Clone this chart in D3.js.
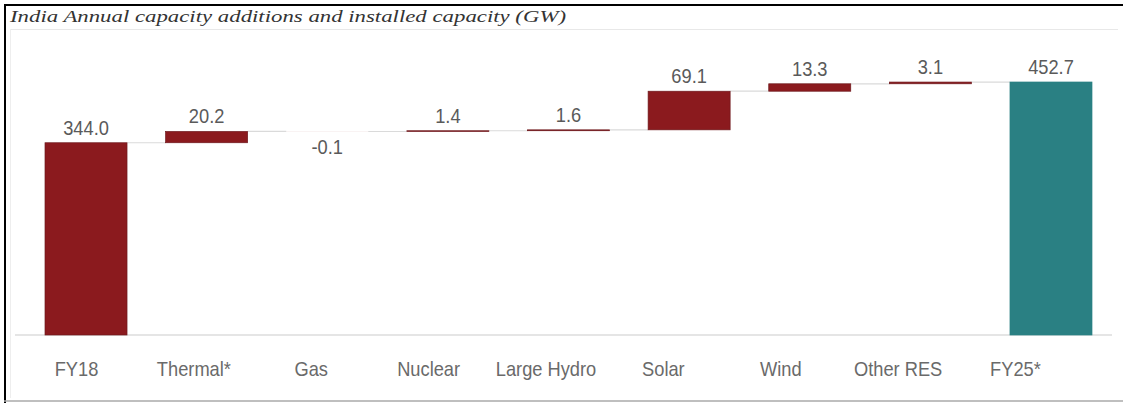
<!DOCTYPE html>
<html lang="en">
<head>
<meta charset="UTF-8">
<title>India capacity waterfall</title>
<style>
    body { margin: 0; background: #fff; }
    .title { font-family: "Liberation Serif", "DejaVu Serif", serif; font-style: italic; fill: #333; }
    .val { font-family: "Liberation Sans", sans-serif; fill: #5a5a5a; }
    .axis text { font-family: "Liberation Sans", sans-serif; fill: #6a6a6a; }
</style>
</head>
<body>
<svg id="chart"></svg>
<script src="https://d3js.org/d3.v7.min.js"></script>
<script>
    const categories = ["FY18", "Thermal*", "Gas", "Nuclear", "Large Hydro", "Solar", "Wind", "Other RES", "FY25*"];
    const values = [344.0, 20.2, -0.1, 1.4, 1.6, 69.1, 13.3, 3.1, 452.7];
    const valueLabels = ["344.0", "20.2", "-0.1", "1.4", "1.6", "69.1", "13.3", "3.1", "452.7"];
    const isTotal = [true, false, false, false, false, false, false, false, true];

    const width = 1123, height = 403;
    const squeeze = 0.87; // labels in the source are a narrow face
    const svg = d3.select("#chart").attr("width", width).attr("height", height);

    // frame
    svg.append("line").attr("x1", 4).attr("x2", width).attr("y1", 5).attr("y2", 5)
        .attr("stroke", "#000").attr("stroke-width", 2);
    svg.append("line").attr("x1", 5).attr("x2", 5).attr("y1", 4).attr("y2", height)
        .attr("stroke", "#000").attr("stroke-width", 2);
    svg.append("line").attr("x1", 4).attr("x2", width).attr("y1", 401).attr("y2", 401)
        .attr("stroke", "#aaa").attr("stroke-width", 1.5);
    svg.append("line").attr("x1", 10).attr("x2", 1118).attr("y1", 29.5).attr("y2", 29.5)
        .attr("stroke", "#e8e8e8");
    svg.append("line").attr("x1", 10.5).attr("x2", 10.5).attr("y1", 29).attr("y2", 398)
        .attr("stroke", "#eee");

    svg.append("text").attr("class", "title")
        .attr("x", 10).attr("y", 22)
        .attr("font-size", 17)
        .attr("textLength", 556).attr("lengthAdjust", "spacingAndGlyphs")
        .text("India Annual capacity additions and installed capacity (GW)");

    // running totals
    const rows = [];
    let run = 0;
    values.forEach((v, i) => {
        let start, end;
        if (isTotal[i]) { start = 0; end = v; run = v; }
        else { start = run; end = run + v; run = end; }
        rows.push({ cat: categories[i], v, label: valueLabels[i], start, end, total: isTotal[i] });
    });

    const x = d3.scaleBand().domain(categories).range([25.7, 1111.3])
        .paddingInner(0.32).paddingOuter(0.16);
    const xLab = d3.scalePoint().domain(categories).range([76, 1015]);
    const y = d3.scaleLinear().domain([0, 452.7]).range([335, 82]);

    // axis baseline
    svg.append("line").attr("x1", 15).attr("x2", 1112).attr("y1", y(0)).attr("y2", y(0))
        .attr("stroke", "#ddd").attr("stroke-width", 1.5);

    // connectors
    svg.append("g").selectAll("line")
        .data(rows.slice(0, -1))
        .join("line")
        .attr("x1", d => x(d.cat) + x.bandwidth())
        .attr("x2", (d, i) => x(categories[i + 1]))
        .attr("y1", d => y(d.end)).attr("y2", d => y(d.end))
        .attr("stroke", "#dadada").attr("stroke-width", 1.2);

    svg.append("g").selectAll("rect")
        .data(rows)
        .join("rect")
        .attr("x", d => x(d.cat))
        .attr("width", x.bandwidth())
        .attr("y", d => y(Math.max(d.start, d.end)))
        .attr("height", d => Math.abs(y(d.start) - y(d.end)))
        .attr("fill", d => d.cat === "FY25*" ? "#2a8083" : "#8b1a1e")
        .attr("stroke", d => d.v < 0 ? "none" : (d.cat === "FY25*" ? "#2a8083" : "#6e1a1e"))
        .attr("stroke-width", 0.7);

    svg.append("g").selectAll("text")
        .data(rows)
        .join("text")
        .attr("class", "val")
        .attr("font-size", 21)
        .attr("text-anchor", "middle")
        .attr("transform", d => {
            const cx = x(d.cat) + x.bandwidth() / 2;
            const cy = d.v < 0 ? y(d.end) + 22 : y(d.end) - 8;
            return `translate(${cx},${cy}) scale(${squeeze},1)`;
        })
        .text(d => d.label);

    const axis = svg.append("g").attr("class", "axis")
        .attr("transform", `translate(0,${y(0)})`)
        .call(d3.axisBottom(xLab).tickSize(0).tickPadding(26));
    axis.select(".domain").remove();
    axis.selectAll("text").attr("font-size", 21).attr("transform", `scale(${squeeze},1)`);
</script>
</body>
</html>
